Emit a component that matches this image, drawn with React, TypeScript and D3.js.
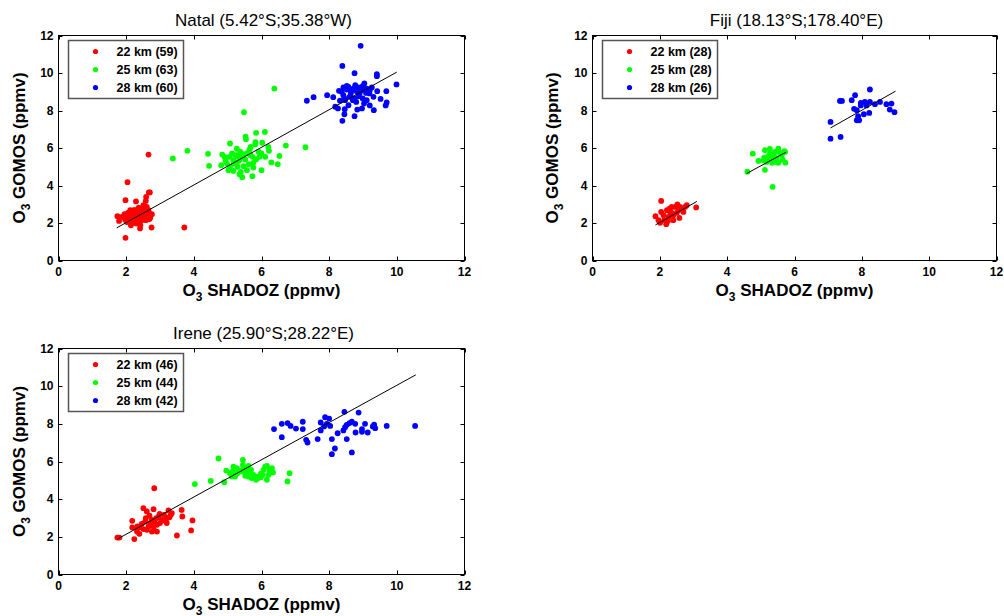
import React from "react";
import * as d3 from "d3";

type P = [number, number];

// ---------- Data ----------
const seriesLabels = ["22 km", "25 km", "28 km"];
const seriesColors = ["#ff0000", "#00ff00", "#0000ff"];
const axisTicks = [0, 2, 4, 6, 8, 10, 12];

const natalTitle = "Natal (5.42°S;35.38°W)";
const fijiTitle = "Fiji (18.13°S;178.40°E)";
const ireneTitle = "Irene (25.90°S;28.22°E)";

const natalCounts = [59, 63, 60];
const fijiCounts = [28, 28, 26];
const ireneCounts = [46, 44, 42];

const natal22: P[] = [
  [2.66, 5.65], [2.04, 4.18], [1.98, 3.22], [2.29, 3.15], [2.67, 3.63], [2.7, 3.63],
  [2.59, 3.39], [2.58, 3.18], [1.74, 2.36], [1.79, 2.11], [1.98, 1.21], [2.41, 1.71],
  [2.75, 1.76], [3.72, 1.76], [2.0, 2.42], [2.07, 2.33], [1.92, 2.33], [2.17, 2.54],
  [2.27, 2.68], [2.37, 2.82], [2.48, 2.73], [2.56, 2.68], [2.61, 2.86], [2.69, 2.51],
  [2.76, 2.47], [2.42, 2.42], [2.32, 2.27], [2.22, 2.15], [2.17, 2.0], [2.12, 2.24],
  [2.37, 2.05], [2.46, 2.15], [2.68, 2.2], [2.54, 2.29], [2.02, 2.05], [2.27, 2.42],
  [2.42, 2.6], [2.56, 2.42], [2.32, 2.6], [2.09, 2.47], [1.97, 2.18], [1.87, 2.33],
  [2.22, 2.68], [2.51, 2.95], [2.63, 2.6], [2.46, 2.42], [2.14, 1.88], [2.3, 1.97],
  [2.71, 2.27], [2.05, 2.54], [2.19, 2.33], [2.35, 2.47], [2.44, 2.24], [2.58, 2.15],
  [2.25, 2.06], [1.95, 2.47], [2.39, 2.68], [2.51, 2.54], [2.66, 2.68], [2.12, 2.68],
  [2.42, 1.88],
];
const natal25: P[] = [
  [6.38, 9.17], [5.48, 7.91], [3.38, 5.44], [3.81, 5.85], [4.42, 5.69], [4.45, 5.05],
  [7.3, 6.04], [6.72, 6.13], [6.53, 5.58], [6.48, 5.14], [6.29, 5.23], [6.1, 6.86],
  [5.84, 6.81], [5.53, 6.6], [5.54, 6.47], [5.82, 6.31], [5.82, 6.2], [6.02, 6.28],
  [6.0, 5.71], [6.0, 4.82], [5.73, 4.5], [5.43, 4.44], [5.35, 4.6], [4.84, 5.65],
  [4.91, 5.53], [5.07, 6.24], [6.22, 5.85], [6.2, 6.06], [5.59, 5.74], [5.65, 5.92],
  [5.27, 5.96], [5.24, 5.62], [5.13, 5.71], [5.37, 5.8], [4.98, 5.17], [5.02, 4.82],
  [5.17, 4.78], [5.29, 5.0], [5.47, 5.03], [5.62, 5.14], [5.76, 5.21], [5.84, 5.39],
  [5.52, 5.39], [5.35, 5.35], [5.17, 5.35], [5.05, 5.53], [5.29, 5.56], [5.42, 5.53],
  [5.74, 5.53], [5.91, 5.8], [5.67, 5.62], [5.19, 5.17], [5.07, 5.0], [5.57, 4.82],
  [5.39, 4.73], [5.76, 4.96], [5.94, 5.53], [6.11, 5.53], [4.81, 5.08], [4.94, 5.32],
  [5.27, 5.21], [5.47, 5.67], [5.68, 6.06],
];
const natal28: P[] = [
  [8.93, 11.45], [8.39, 10.38], [8.75, 9.99], [9.41, 9.94], [9.41, 9.83], [9.99, 9.39],
  [7.34, 8.52], [7.54, 8.71], [7.94, 8.82], [8.12, 8.71], [8.26, 8.11], [8.45, 7.8],
  [8.39, 7.45], [8.75, 7.7], [8.83, 8.05], [9.32, 8.02], [9.2, 8.27], [9.52, 8.62],
  [9.69, 9.03], [9.7, 8.43], [9.67, 8.27], [9.42, 9.03], [9.2, 9.08], [9.03, 8.37],
  [8.97, 8.11], [8.46, 8.07], [8.32, 8.52], [8.29, 9.05], [8.42, 9.23], [8.57, 9.26],
  [8.71, 9.17], [8.87, 9.23], [8.99, 9.3], [9.11, 9.17], [9.19, 8.91], [9.09, 8.94],
  [8.96, 9.08], [8.82, 9.0], [8.67, 9.08], [8.52, 9.12], [8.37, 9.0], [8.6, 8.73],
  [8.74, 8.64], [8.87, 8.76], [8.99, 8.64], [8.47, 8.55], [8.7, 8.55], [8.8, 8.46],
  [9.26, 9.23], [8.77, 9.35], [8.52, 9.31], [8.9, 8.91], [8.64, 8.91], [8.42, 8.82],
  [9.31, 8.73], [9.11, 8.55], [8.57, 8.28], [8.18, 8.2], [9.04, 9.44], [8.45, 8.64],
];

const fiji22: P[] = [
  [2.04, 3.18], [1.87, 2.36], [2.04, 2.59], [3.08, 2.83], [2.8, 2.95], [2.52, 2.99],
  [2.35, 2.86], [2.31, 2.59], [2.19, 1.94], [2.24, 2.11], [2.13, 2.15], [1.96, 2.15],
  [2.11, 2.42], [2.4, 2.42], [2.58, 2.27], [2.55, 2.68], [2.7, 2.59], [2.46, 2.86],
  [2.26, 2.33], [2.35, 2.54], [2.65, 2.77], [2.75, 2.86], [2.21, 2.68], [2.5, 2.54],
  [2.01, 2.01], [2.4, 2.15], [2.6, 2.86], [2.29, 2.77],
];
const fiji25: P[] = [
  [4.6, 4.74], [4.76, 5.7], [5.35, 3.93], [5.12, 4.83], [4.93, 5.31], [5.1, 5.49],
  [5.12, 5.88], [5.27, 5.95], [5.52, 5.97], [5.7, 5.83], [5.73, 5.22], [5.62, 5.62],
  [5.47, 5.44], [5.32, 5.35], [5.22, 5.56], [5.37, 5.62], [5.42, 5.79], [5.17, 5.26],
  [5.34, 5.21], [5.52, 5.21], [5.27, 5.7], [5.57, 5.74], [5.65, 5.38], [5.45, 5.26],
  [5.25, 5.38], [5.42, 5.49], [5.08, 5.35], [5.72, 5.79],
];
const fiji28: P[] = [
  [8.24, 9.12], [7.8, 8.82], [7.35, 8.51], [7.41, 8.51], [7.7, 8.55], [7.07, 7.39],
  [7.07, 6.5], [7.37, 6.59], [7.85, 7.48], [7.92, 7.48], [7.89, 7.7], [7.77, 8.09],
  [7.97, 8.27], [8.09, 8.46], [8.24, 8.46], [8.39, 8.34], [8.54, 8.46], [8.73, 8.34],
  [8.88, 8.37], [8.97, 7.91], [8.83, 8.05], [8.22, 7.87], [8.06, 7.8], [7.85, 8.02],
  [8.14, 8.27], [7.97, 8.41],
];

const irene22: P[] = [
  [2.83, 4.58], [1.74, 1.96], [1.8, 1.96], [2.24, 1.88], [2.18, 2.85], [2.18, 2.5],
  [2.51, 3.52], [2.61, 3.35], [2.81, 3.47], [3.5, 2.07], [3.92, 2.34], [3.96, 2.87],
  [3.64, 3.43], [3.66, 3.08], [3.25, 3.4], [3.32, 3.17], [3.2, 2.73], [2.83, 2.34],
  [2.39, 2.16], [2.32, 2.28], [2.41, 2.51], [2.58, 2.99], [2.71, 2.73], [2.51, 2.41],
  [2.66, 2.55], [2.91, 2.64], [3.05, 2.9], [3.12, 3.17], [2.96, 3.08], [3.35, 3.26],
  [2.89, 2.99], [2.76, 2.9], [2.61, 2.37], [2.81, 2.55], [3.0, 2.73], [3.1, 2.87],
  [3.28, 3.04], [2.69, 3.12], [2.46, 2.69], [2.76, 2.28], [2.91, 2.28], [3.2, 2.99],
  [2.99, 3.22], [2.33, 2.55], [2.56, 2.81], [2.83, 2.81],
];
const irene25: P[] = [
  [4.73, 6.16], [4.03, 4.8], [4.5, 4.97], [4.9, 4.9], [5.45, 6.09], [6.77, 4.94],
  [6.83, 5.38], [6.16, 5.03], [4.96, 5.52], [5.07, 5.38], [5.17, 5.73], [5.22, 5.2],
  [5.29, 5.38], [5.37, 5.52], [5.49, 5.65], [5.62, 5.77], [5.69, 5.56], [5.55, 5.38],
  [5.62, 5.2], [5.71, 5.12], [5.84, 5.03], [5.91, 5.12], [5.98, 5.35], [6.06, 5.56],
  [6.16, 5.77], [6.28, 5.59], [6.34, 5.42], [6.24, 5.52], [6.11, 5.73], [5.42, 5.47],
  [5.56, 5.56], [5.76, 5.29], [5.88, 5.2], [5.98, 5.17], [5.15, 5.47], [5.27, 5.65],
  [5.52, 5.24], [5.66, 5.38], [5.81, 5.17], [6.04, 5.29], [6.21, 5.29], [6.31, 5.65],
  [5.12, 5.2], [5.45, 5.82],
];
const irene28: P[] = [
  [8.45, 8.64], [8.87, 8.6], [10.54, 7.89], [9.7, 7.89], [6.37, 7.72], [6.6, 8.0],
  [6.77, 8.04], [6.86, 7.89], [7.02, 7.75], [7.22, 8.11], [7.22, 7.72], [7.32, 7.15],
  [7.36, 7.01], [6.6, 7.29], [7.66, 7.19], [7.75, 8.07], [7.88, 8.35], [8.0, 8.28],
  [7.85, 7.86], [8.03, 7.89], [8.08, 7.19], [8.17, 6.69], [8.08, 6.39], [8.25, 7.5],
  [8.42, 7.65], [8.52, 7.95], [8.6, 8.04], [8.67, 8.11], [8.52, 7.19], [8.67, 6.48],
  [8.77, 8.0], [8.78, 7.54], [8.97, 7.72], [8.97, 7.58], [9.06, 8.0], [9.14, 7.54],
  [9.29, 7.86], [9.33, 7.96], [9.36, 7.77], [7.93, 8.0], [7.75, 7.65], [8.47, 7.82],
];

// regression line segments (endpoints in data units)
const natalFits: P[][] = [[[1.72, 1.74], [10.0, 10.05]]];
const fijiFits: P[][] = [
  [[1.87, 1.9], [3.1, 3.15]],
  [[4.58, 4.64], [5.75, 5.78]],
  [[7.07, 7.07], [9.0, 9.03]],
];
const ireneFits: P[][] = [[[1.74, 1.88], [10.56, 10.6]]];

// ---------- Drawing ----------
const FONT = "'Liberation Sans', Arial, Helvetica, sans-serif";

interface PanelProps {
  left: number;
  right: number;
  top: number;
  bottom: number;
  title: string;
  series: P[][];
  counts: number[];
  fits: P[][];
  legendX: number;
  yLabelX: number;
}

function Panel(p: PanelProps) {
  const x = d3.scaleLinear().domain([0, 12]).range([p.left, p.right]);
  const y = d3.scaleLinear().domain([0, 12]).range([p.bottom, p.top]);
  const line = d3
    .line<P>()
    .x((d) => x(d[0]))
    .y((d) => y(d[1]));
  const cx = (p.left + p.right) / 2;
  const cy = (p.top + p.bottom) / 2;
  const tickLen = 4;
  const lg = { x: p.legendX, y: p.top + 5, w: 115, h: 58 };
  return (
    <g>
      <text x={cx + 2} y={p.top - 9.5} fontSize={17} textAnchor="middle" fontFamily={FONT} fill="#000">
        {p.title}
      </text>
      {/* ticks */}
      {axisTicks.map((t) => {
        const tx = Math.round(x(t)) + 0.5;
        const ty = Math.round(y(t)) + 0.5;
        return (
          <g key={t}>
            <line x1={tx} x2={tx} y1={p.bottom} y2={p.bottom - tickLen} stroke="#000" />
            <line x1={tx} x2={tx} y1={p.top} y2={p.top + tickLen} stroke="#000" />
            <line x1={p.left} x2={p.left + tickLen} y1={ty} y2={ty} stroke="#000" />
            <line x1={p.right} x2={p.right - tickLen} y1={ty} y2={ty} stroke="#000" />
            <text x={x(t)} y={p.bottom + 15} fontSize={12} fontWeight="bold" textAnchor="middle" fontFamily={FONT}>
              {t}
            </text>
            <text x={p.left - 5} y={y(t) + 4.3} fontSize={12} fontWeight="bold" textAnchor="end" fontFamily={FONT}>
              {t}
            </text>
          </g>
        );
      })}
      {/* points */}
      {p.series.map((s, i) => (
        <g key={i} fill={seriesColors[i]}>
          {s.map((d, j) => (
            <circle key={j} cx={x(d[0])} cy={y(d[1])} r={2.9} />
          ))}
        </g>
      ))}
      {/* fits */}
      {p.fits.map((f, i) => (
        <path key={i} d={line(f) || ""} stroke="#000" strokeWidth={1} fill="none" />
      ))}
      {/* frame */}
      <rect x={p.left} y={p.top} width={p.right - p.left} height={p.bottom - p.top} fill="none" stroke="#000" strokeWidth={1} />
      {/* legend */}
      <rect x={lg.x} y={lg.y} width={lg.w} height={lg.h} fill="#fff" stroke="#555" strokeWidth={1.5} />
      {seriesLabels.map((l, i) => (
        <g key={l}>
          <circle cx={lg.x + 27} cy={lg.y + 11 + i * 18} r={2.6} fill={seriesColors[i]} />
          <text x={lg.x + 48} y={lg.y + 15.5 + i * 18} fontSize={12.5} fontWeight="bold" fontFamily={FONT}>
            {`${l} (${p.counts[i]})`}
          </text>
        </g>
      ))}
      {/* axis labels */}
      <text x={cx} y={p.bottom + 35} fontSize={17} fontWeight="bold" textAnchor="middle" fontFamily={FONT}>
        O<tspan fontSize={12} dy={5}>3</tspan>
        <tspan dy={-5}> SHADOZ (ppmv)</tspan>
      </text>
      <text
        transform={`translate(${p.yLabelX},${cy}) rotate(-90)`}
        fontSize={17}
        fontWeight="bold"
        textAnchor="middle"
        fontFamily={FONT}
      >
        O<tspan fontSize={12} dy={5}>3</tspan>
        <tspan dy={-5}> GOMOS (ppmv)</tspan>
      </text>
    </g>
  );
}

export default function App() {
  return (
    <svg
      width={1004}
      height={616}
      style={{ position: "absolute", left: 0, top: 0, background: "#fff" }}
    >
      <rect width={1004} height={616} fill="#fff" />
      <Panel
        left={58.5}
        right={464.5}
        top={35.5}
        bottom={260.5}
        title={natalTitle}
        series={[natal22, natal25, natal28]}
        counts={natalCounts}
        fits={natalFits}
        legendX={68.5}
        yLabelX={25}
      />
      <Panel
        left={592.5}
        right={996.5}
        top={35.5}
        bottom={260.5}
        title={fijiTitle}
        series={[fiji22, fiji25, fiji28]}
        counts={fijiCounts}
        fits={fijiFits}
        legendX={602.5}
        yLabelX={558}
      />
      <Panel
        left={58.5}
        right={464.5}
        top={348.5}
        bottom={574.5}
        title={ireneTitle}
        series={[irene22, irene25, irene28]}
        counts={ireneCounts}
        fits={ireneFits}
        legendX={68.5}
        yLabelX={25}
      />
    </svg>
  );
}
